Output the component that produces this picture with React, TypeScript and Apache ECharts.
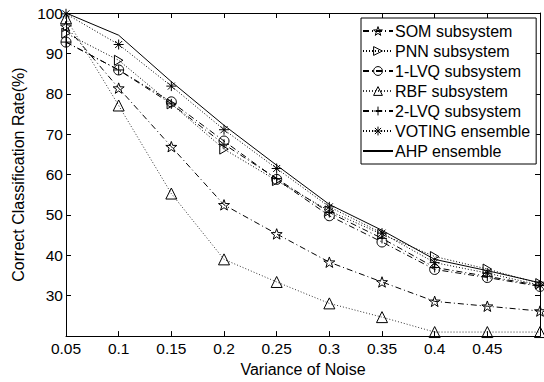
import React, { useEffect, useRef } from "react";
import * as echarts from "echarts";

const xValues = [0.05, 0.1, 0.15, 0.2, 0.25, 0.3, 0.35, 0.4, 0.45, 0.5];
const seriesNames = [
  "SOM subsystem",
  "PNN subsystem",
  "1-LVQ subsystem",
  "RBF subsystem",
  "2-LVQ subsystem",
  "VOTING ensemble",
  "AHP ensemble",
];
const som = [96.7, 81.4, 66.9, 52.5, 45.3, 38.3, 33.4, 28.6, 27.4, 26.2];
const pnn = [95.0, 88.3, 77.5, 66.3, 58.5, 51.0, 45.2, 39.7, 36.6, 33.0];
const lvq1 = [92.8, 85.9, 78.0, 68.3, 58.8, 49.8, 43.3, 36.5, 34.5, 32.3];
const rbf = [98.7, 77.1, 55.3, 39.0, 33.4, 28.1, 24.7, 21.0, 21.0, 21.0];
const lvq2 = [92.8, 85.9, 77.5, 67.5, 59.0, 50.6, 44.2, 37.0, 34.8, 32.5];
const voting = [99.8, 92.2, 81.9, 71.1, 61.5, 52.0, 45.5, 38.2, 35.6, 32.6];
const ahp = [100.0, 94.5, 83.0, 72.2, 62.3, 52.6, 46.2, 39.0, 36.2, 33.2];

const starPath =
  "path://M10 0 L12.35 6.76 L19.51 6.91 L13.80 11.24 L15.88 18.09 L10 14 L4.12 18.09 L6.20 11.24 L0.49 6.91 L7.65 6.76 Z";
const rightTriPath = "path://M0 0 L17 10 L0 20 Z";
const plusPath = "path://M10 0 L10 20 M0 10 L20 10";
const asteriskPath = "path://M10 0 L10 20 M0 10 L20 10 M3 3 L17 17 M17 3 L3 17";

const FONT = "'Liberation Sans', Arial, sans-serif";

export default function App() {
  const ref = useRef<HTMLDivElement>(null);
  useEffect(() => {
    if (!ref.current) return;
    const chart = echarts.init(ref.current, undefined, { renderer: "svg" });
    const zip = (ys: number[]) => xValues.map((x, i) => [x, ys[i]]);
    const mk = (
      name: string,
      ys: number[],
      symbol: string,
      dash: any,
      size = 9,
      color = "#000"
    ) => ({
      name,
      type: "line",
      data: zip(ys),
      symbol,
      showSymbol: symbol !== "none",
      symbolSize: size,
      symbolKeepAspect: true,
      lineStyle: { color, width: 1, type: dash },
      itemStyle: { color: "rgba(0,0,0,0)", borderColor: "#000", borderWidth: 1 },
      xAxisIndex: 0,
      yAxisIndex: 0,
    });
    const dashDot = [6, 3, 1, 3];
    const dotted = [1, 2];
    const tickStyle = { show: true, inside: true, length: 5, lineStyle: { color: "#000", width: 1 } };
    const axisLine = { show: true, lineStyle: { color: "#000", width: 1 } };
    const legendData: any[] = seriesNames.map((n, i) =>
      i === 6 ? { name: n, itemStyle: { borderWidth: 0, borderColor: "rgba(0,0,0,0)" } } : { name: n }
    );
    chart.setOption({
      animation: false,
      backgroundColor: "#fff",
      textStyle: { fontFamily: FONT },
      grid: { left: 66, top: 13, right: 4, bottom: 41, containLabel: false },
      legend: {
        orient: "vertical",
        left: 361,
        top: 18,
        padding: [5, 6, 5, 1],
        itemWidth: 30,
        itemHeight: 11,
        itemGap: 4,
        backgroundColor: "#fff",
        borderColor: "#000",
        borderWidth: 1,
        itemStyle: { color: "rgba(0,0,0,0)", borderColor: "#000", borderWidth: 1 },
        textStyle: { fontFamily: FONT, fontSize: 16, color: "#000", padding: [0, 0, 0, -3] },
        data: legendData,
      },
      xAxis: [
        {
          type: "value",
          min: 0.05,
          max: 0.5,
          interval: 0.05,
          position: "bottom",
          name: "Variance of Noise",
          nameLocation: "middle",
          nameGap: 23,
          nameTextStyle: { fontFamily: FONT, fontSize: 16, color: "#000" },
          axisLine,
          axisTick: tickStyle,
          splitLine: { show: false },
          axisLabel: {
            fontFamily: FONT,
            fontSize: 15.5,
            color: "#000",
            margin: 4,
            formatter: (v: number) => {
              const s = String(+v.toFixed(2));
              return s === "0.5" ? "" : s;
            },
          },
        },
        {
          type: "value",
          min: 0.05,
          max: 0.5,
          interval: 0.05,
          position: "top",
          axisLine,
          axisTick: tickStyle,
          splitLine: { show: false },
          axisLabel: { show: false },
        },
      ],
      yAxis: [
        {
          type: "value",
          min: 20,
          max: 100,
          interval: 10,
          position: "left",
          name: "Correct Classification Rate(%)",
          nameLocation: "middle",
          nameGap: 35,
          nameTextStyle: { fontFamily: FONT, fontSize: 16, color: "#000" },
          axisLine,
          axisTick: tickStyle,
          splitLine: { show: false },
          axisLabel: {
            fontFamily: FONT,
            fontSize: 15.5,
            color: "#000",
            margin: 3,
            formatter: (v: number) => (v === 20 ? "" : String(v)),
          },
        },
        {
          type: "value",
          min: 20,
          max: 100,
          interval: 10,
          position: "right",
          axisLine,
          axisTick: tickStyle,
          splitLine: { show: false },
          axisLabel: { show: false },
        },
      ],
      series: [
        mk(seriesNames[0], som, starPath, dashDot, 11),
        mk(seriesNames[1], pnn, rightTriPath, dotted, 10),
        mk(seriesNames[2], lvq1, "circle", dashDot, 10),
        mk(seriesNames[3], rbf, "triangle", dotted, 11, "#333"),
        mk(seriesNames[4], lvq2, plusPath, dashDot, 10),
        mk(seriesNames[5], voting, asteriskPath, dotted, 10),
        mk(seriesNames[6], ahp, "none", "solid"),
      ],
    });
    return () => chart.dispose();
  }, []);
  return (
    <div
      ref={ref}
      style={{ position: "absolute", left: 0, top: 0, width: 544, height: 382 }}
    />
  );
}
